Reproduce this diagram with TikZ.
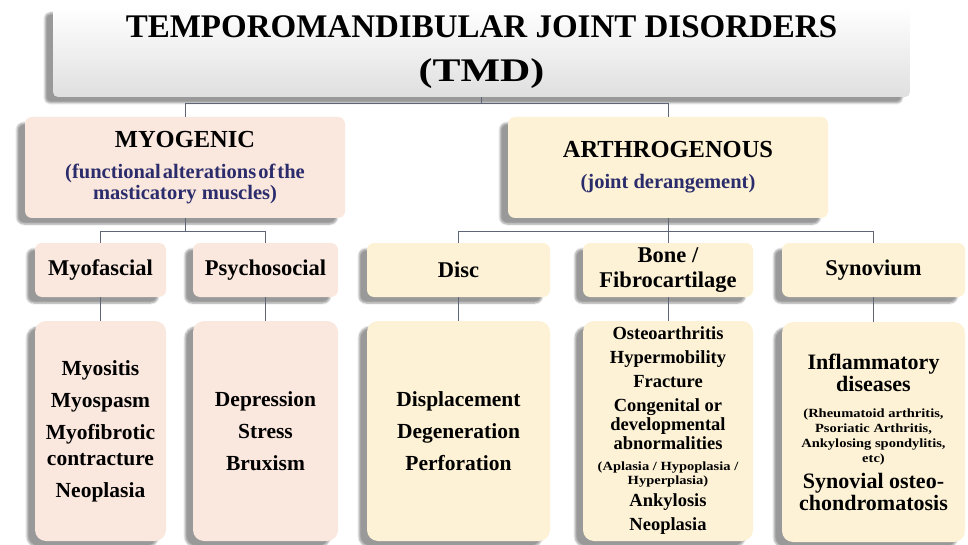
\documentclass[tikz,border=0pt]{standalone}
\usepackage{fontspec}
\setmainfont{Liberation Serif}
\usepackage{graphicx}
\usepackage{xcolor}
\usetikzlibrary{shadows.blur, calc}
\definecolor{myofill}{HTML}{FAE7DE}
\definecolor{arthfill}{HTML}{FDF2D6}
\definecolor{subblue}{HTML}{2B2C6B}
\definecolor{linkgray}{HTML}{5E6577}
\newcommand{\subfont}{\color{subblue}\fontsize{20.5}{21}\selectfont}
\newcommand{\tightspace}{\spaceskip=0.1em plus 0.05em\relax}
\newcommand{\tinyfont}{\fontsize{12.5}{13}\selectfont}
\newcommand{\wide}[1]{\scalebox{1.16}[1]{#1}}

\begin{document}
\begin{tikzpicture}[
    x=1pt, y=-1pt,
    box/.style={rectangle, rounded corners=7pt, align=center, inner sep=2pt,
        blur shadow={shadow xshift=-8pt, shadow yshift=-6pt, shadow blur steps=6, shadow opacity=40}},
    titlebox/.style={box, rounded corners=5pt, top color=white, middle color=white, bottom color=gray!25,
        minimum width=857pt, minimum height=90pt, font=\bfseries\fontsize{33}{44}\selectfont},
    groupbox/.style={box, minimum width=320pt, minimum height=101pt, font=\bfseries\fontsize{24.5}{28}\selectfont},
    headbox/.style={box, minimum height=54pt, font=\bfseries\fontsize{22.5}{26}\selectfont},
    listbox/.style={box, rounded corners=11pt, minimum height=220pt, font=\bfseries\fontsize{21.5}{26}\selectfont},
    myo/.style={fill=myofill},
    arth/.style={fill=arthfill},
    link/.style={draw=linkgray, line width=0.8pt}
]
    \useasboundingbox (0,0) rectangle (968,545);

    % Title
    \node[titlebox] (tmd) at (481.5,52) {TEMPOROMANDIBULAR JOINT DISORDERS\\\scalebox{1.27}[1]{(TMD)}};

    % Groups
    \node[groupbox, myo] (myogenic) at (185,167.5)
        {MYOGENIC\\[3pt]\subfont\tightspace (functional alterations of the\\[-7pt]\subfont masticatory muscles)};
    \node[groupbox, arth] (arthro) at (668,167.5) {ARTHROGENOUS\\[3pt]\subfont (joint derangement)};

    % Headings
    \node[headbox, myo, minimum width=131pt] (myofascial) at (100.5,270) {Myofascial};
    \node[headbox, myo, minimum width=145pt] (psycho) at (265.5,270) {Psychosocial};
    \node[headbox, arth, minimum width=183pt] (disc) at (458.5,270) {Disc};
    \node[headbox, arth, minimum width=170pt] (bone) at (668,270) {Bone /\\[-1pt]Fibrocartilage};
    \node[headbox, arth, minimum width=183pt] (synovium) at (873.5,270) {Synovium};

    % Lists
    \node[listbox, myo, minimum width=131pt] (myofascial-list) at (100.5,431)
        {Myositis\\[6pt]Myospasm\\[6pt]Myofibrotic\\contracture\\[6pt]Neoplasia};
    \node[listbox, myo, minimum width=145pt] (psycho-list) at (265.5,431)
        {Depression\\[6pt]Stress\\[6pt]Bruxism};
    \node[listbox, arth, minimum width=183pt] (disc-list) at (458.5,431)
        {Displacement\\[6pt]Degeneration\\[6pt]Perforation};
    \node[listbox, arth, minimum width=170pt, font=\bfseries\fontsize{18.5}{19}\selectfont] (bone-list) at (668,431)
        {Osteoarthritis\\[5pt]Hypermobility\\[5pt]Fracture\\[5pt]Congenital or\\developmental\\abnormalities\\[2pt]
         {\tinyfont\wide{(Aplasia / Hypoplasia /}}\\[-5pt]{\tinyfont\wide{Hyperplasia)}}\\[3pt]Ankylosis\\[5pt]Neoplasia};
    \node[listbox, arth, minimum width=183pt, font=\bfseries\fontsize{22}{22}\selectfont] (synovium-list) at (873.5,432)
        {Inflammatory\\diseases\\[4pt]{\tinyfont\wide{(Rheumatoid arthritis,}}\\[-7pt]{\tinyfont\wide{Psoriatic Arthritis,}}\\[-7pt]
         {\tinyfont\wide{Ankylosing spondylitis,}}\\[-7pt]{\tinyfont\wide{etc)}}\\[4pt]Synovial osteo-\\chondromatosis};

    % Connectors
    \coordinate (tmd-joint) at ([yshift=-6pt]tmd.south);
    \draw[link] (tmd.south) -- (tmd-joint) -| (myogenic.north);
    \draw[link] (tmd-joint) -| (arthro.north);

    \coordinate (myo-joint) at ([yshift=-13pt]myogenic.south);
    \draw[link] (myogenic.south) -- (myo-joint) -| (myofascial.north);
    \draw[link] (myo-joint) -| (psycho.north);

    \coordinate (arth-joint) at ([yshift=-13pt]arthro.south);
    \draw[link] (arthro.south) -- (arth-joint) -| (disc.north);
    \draw[link] (arth-joint) -| (bone.north);
    \draw[link] (arth-joint) -| (synovium.north);

    \foreach \head in {myofascial, psycho, disc, bone, synovium}
        \draw[link] (\head.south) -- (\head-list.north);
\end{tikzpicture}
\end{document}
